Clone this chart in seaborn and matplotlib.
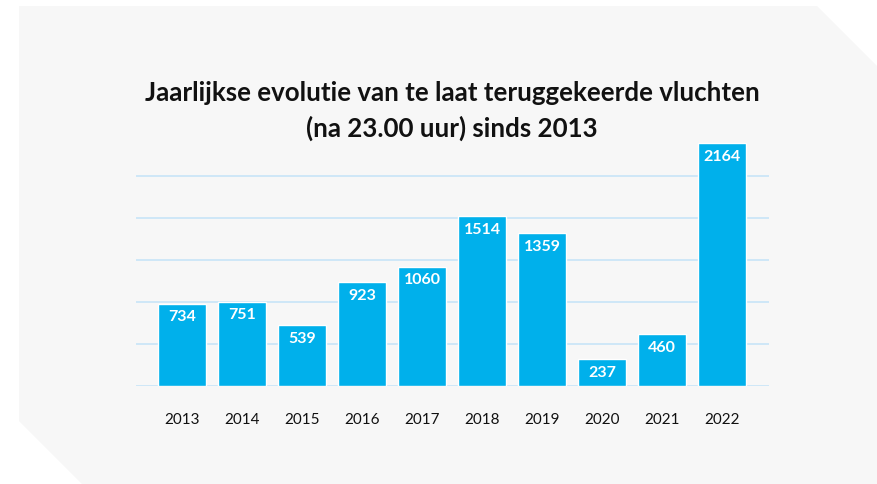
import matplotlib
matplotlib.use("Agg")
import matplotlib.pyplot as plt
import seaborn as sns
import pandas as pd
from matplotlib.patches import Polygon

years = ["2013", "2014", "2015", "2016", "2017", "2018", "2019", "2020", "2021", "2022"]
flights = [734, 751, 539, 923, 1060, 1514, 1359, 237, 460, 2164]
grid_values = [0, 374, 748, 1122, 1496, 1870]
title = "Jaarlijkse evolutie van te laat teruggekeerde vluchten\n(na 23.00 uur) sinds 2013"

df = pd.DataFrame({"year": years, "flights": flights})

sns.set_theme(style="white")
plt.rcParams["font.family"] = ["Lato", "DejaVu Sans"]

W, H = 878, 485
fig = plt.figure(figsize=(W / 100, H / 100), dpi=100)
fig.patch.set_facecolor("white")

# background panel with cut corners (pixel coords -> figure fraction)
pts = [(19, 7), (817, 7), (878, 68), (878, 485), (82, 485), (19, 422)]
poly = Polygon([(x / W, 1 - y / H) for x, y in pts], closed=True,
               transform=fig.transFigure, facecolor="#F7F7F7", edgecolor="none", zorder=-10)
fig.patches.append(poly)

ax = fig.add_axes([136 / W, 1 - 387 / H, (769 - 136) / W, (387 - 140) / H])
ax.set_facecolor("none")
ax.set_zorder(5)

for g in grid_values:
    ax.axhline(g, color="#CBE6F7", lw=1.3, zorder=0)

sns.barplot(data=df, x="year", y="flights", color="#00B0EB", saturation=1,
            width=0.8, ax=ax, zorder=2)

for i, v in enumerate(flights):
    ax.annotate(str(v), (i, v), xytext=(0, -9), textcoords="offset points",
                ha="center", va="center", color="white", fontsize=11.5,
                fontweight="bold", zorder=3)

ax.set_xlim(-0.77, 9.78)
ax.set_ylim(0, 2200)
ax.set_xlabel("")
ax.set_ylabel("")
ax.set_yticks([])
ax.tick_params(axis="x", length=0, pad=19, labelsize=11, labelcolor="#111111")
for s in ax.spines.values():
    s.set_visible(False)

fig.text(452 / W, 1 - 111 / H, title, ha="center", va="center",
         fontsize=18.6, fontweight="bold", color="#111111", linespacing=1.5)

fig.savefig("out.png", dpi=100, facecolor=fig.get_facecolor())
